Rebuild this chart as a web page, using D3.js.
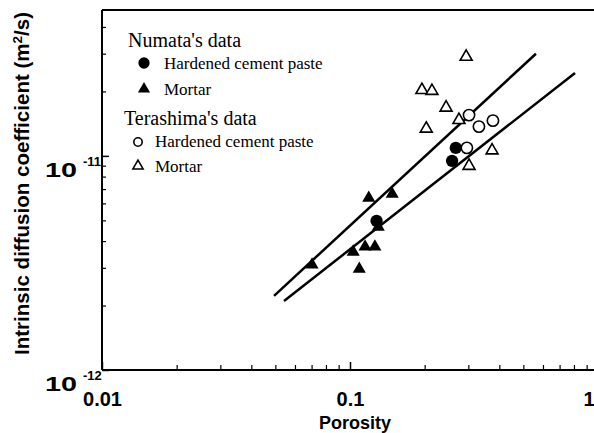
<!DOCTYPE html>
<html lang="en">
<head>
    <meta charset="UTF-8">
    <title>Intrinsic diffusion coefficient vs porosity</title>
    <script src="https://d3js.org/d3.v7.min.js"></script>
    <style>
        body { margin: 0; background: #fff; }
    </style>
</head>
<body>
    <svg width="594" height="433"></svg>

    <script>
        // Numata's data (filled markers)
        const numataPasteX = [0.128, 0.267, 0.258];
        const numataPasteY = [4.97e-12, 1.09e-11, 9.48e-12];
        const numataMortarX = [0.0703, 0.103, 0.115, 0.126, 0.109, 0.130, 0.119, 0.148];
        const numataMortarY = [3.1e-12, 3.56e-12, 3.76e-12, 3.76e-12, 2.96e-12, 4.66e-12, 6.36e-12, 6.64e-12];

        // Terashima's data (open markers)
        const terashimaPasteX = [0.302, 0.331, 0.377, 0.296];
        const terashimaPasteY = [1.55e-11, 1.37e-11, 1.46e-11, 1.09e-11];
        const terashimaMortarX = [0.294, 0.195, 0.214, 0.244, 0.275, 0.203, 0.374, 0.302];
        const terashimaMortarY = [2.90e-11, 2.03e-11, 2.01e-11, 1.68e-11, 1.47e-11, 1.34e-11, 1.06e-11, 8.98e-12];

        // fitted lines, as [x, y] end points
        const upperLine = [[0.0494, 2.22e-12], [0.562, 3.0e-11]];
        const lowerLine = [[0.0542, 2.10e-12], [0.808, 2.44e-11]];

        // axis ticks
        const xMajorTicks = [0.01, 0.1, 1];
        const xMajorLabels = ["0.01", "0.1", "1"];
        const xMinorTicks = [0.02, 0.03, 0.04, 0.05, 0.06, 0.07, 0.08, 0.09,
                             0.2, 0.3, 0.4, 0.5, 0.6, 0.7, 0.8, 0.9];
        const yMajorTicks = [1e-12, 1e-11];
        const yMajorExponents = ["-12", "-11"];
        const yMinorTicks = [2e-12, 3e-12, 4e-12, 5e-12, 6e-12, 7e-12, 8e-12, 9e-12,
                             2e-11, 3e-11, 4e-11];

        const svg = d3.select("svg");
        const margin = {top: 10, left: 102, bottom: 370, right: 598};

        const x = d3.scaleLog()
            .domain([0.01, 1])
            .range([margin.left, margin.right]);

        const y = d3.scaleLog()
            .domain([1e-12, 4.8e-11])
            .range([margin.bottom, margin.top]);

        const sansFont = "'Liberation Sans', Arial, sans-serif";
        const serifFont = "'Liberation Serif', 'Times New Roman', serif";

        // x axis: ticks point inward
        svg.append("g")
            .attr("transform", `translate(0,${margin.bottom})`)
            .call(d3.axisBottom(x).tickValues(xMinorTicks).tickSizeInner(-5).tickSizeOuter(0).tickFormat(""))
            .call(g => g.select(".domain").remove())
            .selectAll("line").attr("stroke-width", 1.2);

        const xMajor = svg.append("g")
            .attr("transform", `translate(0,${margin.bottom})`)
            .call(d3.axisBottom(x).tickValues(xMajorTicks).tickSizeInner(-8).tickSizeOuter(0)
                .tickPadding(22).tickFormat((d, i) => xMajorLabels[i]))
            .call(g => g.select(".domain").remove())
            .call(g => g.selectAll("line").attr("stroke-width", 1.5));
        xMajor.selectAll("text")
            .attr("font-family", sansFont)
            .attr("font-weight", "bold")
            .attr("font-size", "20px")
            .attr("fill", "#000");
        // the last label sits on the canvas edge, keep it inside
        xMajor.selectAll("text").filter(d => d === 1)
            .attr("text-anchor", "end")
            .attr("x", 594 - x(1));

        // y axis: ticks point inward
        svg.append("g")
            .attr("transform", `translate(${margin.left},0)`)
            .call(d3.axisLeft(y).tickValues(yMinorTicks).tickSizeInner(-4).tickSizeOuter(0).tickFormat(""))
            .call(g => g.select(".domain").remove())
            .selectAll("line").attr("stroke-width", 1.2);

        svg.append("g")
            .attr("transform", `translate(${margin.left},0)`)
            .call(d3.axisLeft(y).tickValues(yMajorTicks).tickSizeInner(-7).tickSizeOuter(0).tickFormat(""))
            .call(g => g.select(".domain").remove())
            .selectAll("line").attr("stroke-width", 1.5);

        // y tick labels as 10 with superscript exponent
        yMajorTicks.forEach((v, i) => {
            const t = svg.append("text")
                .attr("font-family", sansFont)
                .attr("font-weight", "bold")
                .attr("fill", "#000");
            t.append("tspan")
                .attr("x", 45)
                .attr("y", y(v) + 21)
                .attr("font-size", "21px")
                .attr("textLength", 32)
                .attr("lengthAdjust", "spacingAndGlyphs")
                .text("10");
            t.append("tspan")
                .attr("x", 83)
                .attr("y", y(v) + 10)
                .attr("font-size", "13px")
                .text(yMajorExponents[i]);
        });

        // frame
        svg.append("line")
            .attr("x1", margin.left).attr("x2", margin.left)
            .attr("y1", margin.top).attr("y2", margin.bottom)
            .attr("stroke", "#000").attr("stroke-width", 2);
        svg.append("line")
            .attr("x1", margin.left).attr("x2", margin.right)
            .attr("y1", margin.bottom).attr("y2", margin.bottom)
            .attr("stroke", "#000").attr("stroke-width", 2);
        svg.append("line")
            .attr("x1", margin.left).attr("x2", margin.right)
            .attr("y1", margin.top).attr("y2", margin.top)
            .attr("stroke", "#000").attr("stroke-width", 2);

        // axis titles
        svg.append("text")
            .attr("text-anchor", "middle")
            .attr("x", 355)
            .attr("y", 429)
            .attr("font-family", sansFont)
            .attr("font-weight", "bold")
            .attr("font-size", "18px")
            .text("Porosity");

        const yTitle = svg.append("text")
            .attr("transform", "translate(29,355) rotate(-90)")
            .attr("font-family", sansFont)
            .attr("font-weight", "bold")
            .attr("font-size", "20px")
            .attr("textLength", 343)
            .attr("lengthAdjust", "spacingAndGlyphs");
        yTitle.append("tspan").text("Intrinsic diffusion coefficient (m");
        yTitle.append("tspan").attr("dy", -7).attr("font-size", "13px").text("2");
        yTitle.append("tspan").attr("dy", 7).text("/s)");

        // fitted lines
        const line = d3.line().x(d => x(d[0])).y(d => y(d[1]));
        [upperLine, lowerLine].forEach(pts => {
            svg.append("path")
                .attr("d", line(pts))
                .attr("fill", "none")
                .attr("stroke", "#000")
                .attr("stroke-width", 2.5);
        });

        // markers
        const circle = d3.symbol().type(d3.symbolCircle);
        const triangle = d3.symbol().type(d3.symbolTriangle);

        function plot(xs, ys, sym, size, filled) {
            svg.append("g").selectAll("path")
                .data(xs.map((v, i) => [v, ys[i]]))
                .enter()
                .append("path")
                .attr("transform", d => `translate(${x(d[0])},${y(d[1])})`)
                .attr("d", sym.size(size)())
                .attr("fill", filled ? "#000" : "#fff")
                .attr("stroke", "#000")
                .attr("stroke-width", filled ? 0 : 1.6);
        }

        plot(terashimaMortarX, terashimaMortarY, triangle, 62, false);
        plot(terashimaPasteX, terashimaPasteY, circle, 100, false);
        plot(numataMortarX, numataMortarY, triangle, 74, true);
        plot(numataPasteX, numataPasteY, circle, 120, true);

        // legend
        const legend = svg.append("g")
            .attr("font-family", serifFont)
            .attr("fill", "#000");

        legend.append("text").attr("x", 128).attr("y", 47).attr("font-size", "20px").text("Numata's data");
        legend.append("path").attr("transform", "translate(144,63)")
            .attr("d", circle.size(100)()).attr("fill", "#000");
        legend.append("text").attr("x", 164).attr("y", 69).attr("font-size", "17px").text("Hardened cement paste");
        legend.append("path").attr("transform", "translate(144,89)")
            .attr("d", triangle.size(64)()).attr("fill", "#000");
        legend.append("text").attr("x", 164).attr("y", 95).attr("font-size", "17px").text("Mortar");

        legend.append("text").attr("x", 124).attr("y", 125).attr("font-size", "20px").text("Terashima's data");
        legend.append("path").attr("transform", "translate(138,142)")
            .attr("d", circle.size(55)()).attr("fill", "#fff").attr("stroke", "#000").attr("stroke-width", 1.6);
        legend.append("text").attr("x", 155).attr("y", 147).attr("font-size", "17px").text("Hardened cement paste");
        legend.append("path").attr("transform", "translate(138,166)")
            .attr("d", triangle.size(45)()).attr("fill", "#fff").attr("stroke", "#000").attr("stroke-width", 1.6);
        legend.append("text").attr("x", 155).attr("y", 172).attr("font-size", "17px").text("Mortar");
    </script>
</body>
</html>
